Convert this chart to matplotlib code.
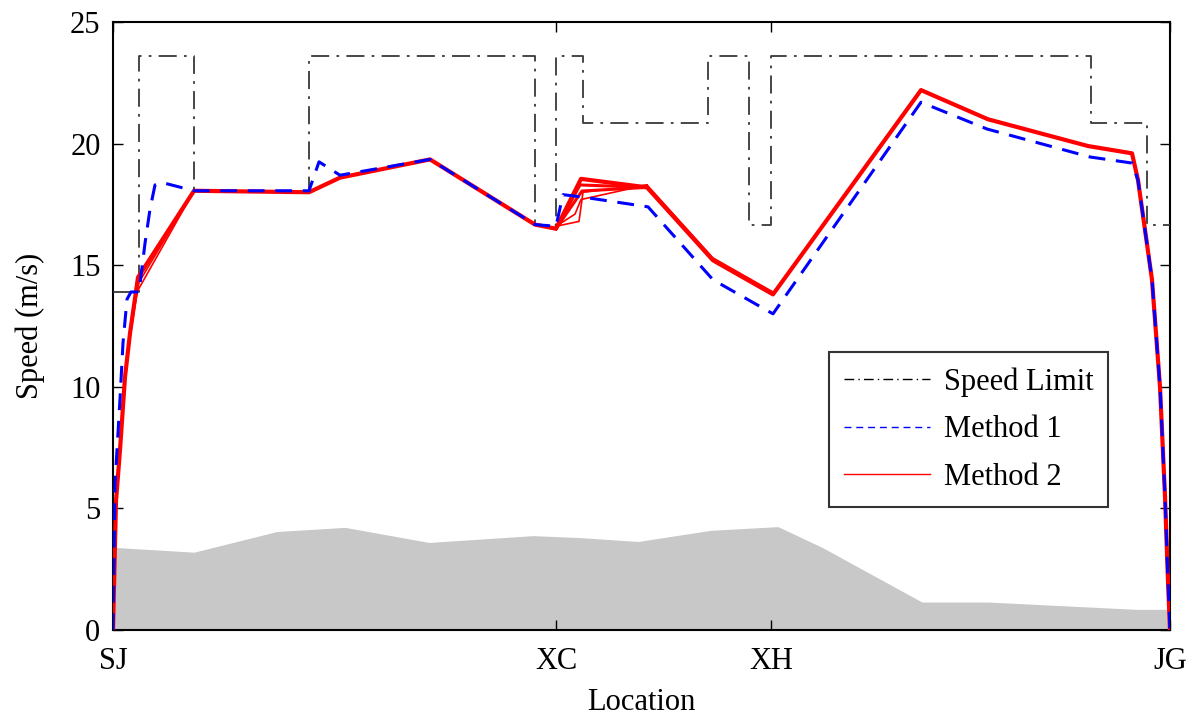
import matplotlib
matplotlib.use("Agg")
import matplotlib.pyplot as plt
from matplotlib.lines import Line2D

plt.rcParams['font.family'] = ['Liberation Serif', 'DejaVu Serif']
plt.rcParams['mathtext.fontset'] = 'stix'

# Station positions (distance units along line)
station_names = ["SJ", "XC", "XH", "JG"]
station_pos = [0, 443, 658, 1057]

# Speed limit (step, post)
limit_x = [0, 26, 81, 196, 422, 443, 470, 595, 636, 658, 978, 1034, 1057]
limit_v = [13.89, 23.61, 18.06, 23.61, 16.67, 23.61, 20.83, 23.61, 16.67, 23.61, 20.83, 16.67, 16.67]

# Method 1 speed profile
m1_x = [0, 2, 7, 10, 14, 18, 26, 32, 37, 42, 49, 81, 196, 206, 227, 317, 422, 443,
        450, 470, 535, 600, 660, 808, 874, 977, 1019, 1025, 1039, 1047, 1052, 1055, 1057]
m1_v = [0, 6.0, 9.5, 11.8, 13.6, 13.9, 13.9, 15.9, 17.3, 18.3, 18.4, 18.06, 18.06, 19.25, 18.7, 19.35, 16.67, 16.6,
        17.9, 17.8, 17.4, 14.4, 13.0, 21.7, 20.6, 19.45, 19.2, 18.5, 14.4, 10.0, 5.5, 2.0, 0]

# Method 2 speed profile (main iteration)
m2_x = [0, 3, 7, 12, 17, 25, 81, 196, 227, 317, 422, 443, 468, 534, 600, 660, 808, 875,
        975, 1019, 1025, 1039, 1047, 1052, 1055, 1057]
m2_v = [0, 5.3, 7.4, 10.4, 12.2, 14.5, 18.06, 18.0, 18.6, 19.35, 16.67, 16.5, 18.55, 18.2, 15.2, 13.8, 22.2, 21.0,
        19.9, 19.6, 18.5, 14.4, 10.0, 5.5, 2.0, 0]

# Method 2 other iterations (partial segments)
m2b_x = [0, 3, 7, 12, 17, 24, 81]
m2b_v = [0, 5.0, 7.2, 10.2, 12.0, 13.9, 18.06]
m2c_x = [17, 26, 81]
m2c_v = [12.2, 14.3, 18.06]
m2d_x = [443, 466, 470, 534]
m2d_v = [16.6, 16.8, 18.0, 18.3]
m2e_x = [443, 462, 468, 534]
m2e_v = [16.6, 17.1, 17.7, 18.3]
m2f_x = [443, 467, 534]
m2f_v = [16.5, 18.3, 18.2]
m2g_x = [443, 469, 534]
m2g_v = [16.5, 18.05, 18.2]
m2h_x = [534, 600, 660]
m2h_v = [18.3, 15.3, 13.9]

# Gradient / elevation background (gray area)
area_x = [0, 81, 164, 232, 316, 420, 467, 525, 598, 665, 709, 809, 875, 1023, 1057]
area_v = [3.4, 3.2, 4.05, 4.22, 3.6, 3.88, 3.8, 3.64, 4.1, 4.25, 3.4, 1.15, 1.15, 0.85, 0.85]

fig = plt.figure(figsize=(11.99, 7.2), dpi=100)
ax = fig.add_axes([113/1199, 1-630/720, (1170-113)/1199, (630-22)/720])

ax.fill_between(area_x, 0, area_v, color='#c8c8c8', lw=0, zorder=1)

limit_style = (0, (10, 4, 1.5, 4))
ax.step(limit_x, limit_v, where='post', color='#383838', lw=1.3,
        linestyle=limit_style, zorder=3)

red = '#ff0000'
for xs, vs in [(m2b_x, m2b_v), (m2c_x, m2c_v), (m2d_x, m2d_v), (m2e_x, m2e_v),
               (m2h_x, m2h_v)]:
    ax.plot(xs, vs, color=red, lw=1.2, zorder=4)
for xs, vs in [(m2f_x, m2f_v), (m2g_x, m2g_v)]:
    ax.plot(xs, vs, color=red, lw=2.2, zorder=4)
ax.plot(m2_x, m2_v, color=red, lw=3.0, zorder=4)

ax.plot(m1_x, m1_v, color='#0000ff', lw=2.2, linestyle=(0, (5.5, 3.5)), zorder=5)

ax.set_xlim(0, 1057)
ax.set_ylim(0, 25)
ax.set_xticks(station_pos)
ax.set_xticklabels(station_names)
ax.set_yticks([0, 5, 10, 15, 20, 25])
ax.tick_params(direction='in', length=7, width=1, top=True, right=True,
               labelsize=22, pad=9)
ax.tick_params(axis='x', pad=12)
for s in ax.spines.values():
    s.set_linewidth(1.5)

ax.set_xlabel('Location', fontsize=22, labelpad=9)
ax.set_ylabel('Speed (m/s)', fontsize=22, labelpad=18)

handles = [Line2D([], [], color='black', lw=1, linestyle=(0, (7, 3, 1, 3))),
           Line2D([], [], color='#0000ff', lw=1, linestyle=(0, (5, 3.5))),
           Line2D([], [], color='#ff0000', lw=1)]
leg = ax.legend(handles, ['Speed Limit', 'Method 1', 'Method 2'],
                loc='upper left', bbox_to_anchor=((829-113)/1057, 0.457),
                fontsize=22, frameon=True, fancybox=False, edgecolor='black',
                handlelength=2.8, handletextpad=0.45, borderpad=0.5,
                labelspacing=0.6, borderaxespad=0)
leg.get_frame().set_linewidth(1.5)
leg.set_zorder(10)

fig.savefig('out.png', dpi=100)
